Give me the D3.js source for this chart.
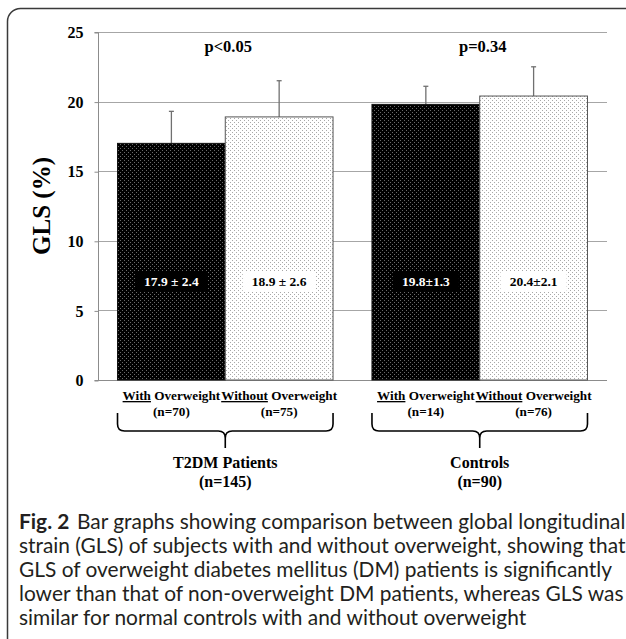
<!DOCTYPE html>
<html>
<head>
<meta charset="utf-8">
<script src="https://cdn.jsdelivr.net/npm/d3@7"></script>
<style>
  html, body { margin: 0; padding: 0; background: #fff; }
  svg { display: block; }
</style>
</head>
<body>
<div id="chart"></div>
<script>
// ---- data ----
const groups = ["T2DM Patients", "Controls"];
const groupN = ["(n=145)", "(n=90)"];
const subKeys = ["With", "Without"];
const subRest = [" Overweight", " Overweight"];
const subN = [["(n=70)", "(n=75)"], ["(n=14)", "(n=76)"]];
const values = [[17.0, 18.9], [19.8, 20.4]];
const errors = [[2.3, 2.6], [1.3, 2.1]];
const valueLabels = [["17.9 \u00B1 2.4", "18.9 \u00B1 2.6"], ["19.8\u00B11.3", "20.4\u00B12.1"]];
const pLabels = ["p<0.05", "p=0.34"];
const yTicks = [0, 5, 10, 15, 20, 25];
const yTitle = "GLS (%)";
const captionBold = "Fig. 2";
const captionLines = [
  "Bar graphs showing comparison between global longitudinal",
  "strain (GLS) of subjects with and without overweight, showing that",
  "GLS of overweight diabetes mellitus (DM) patients is significantly",
  "lower than that of non-overweight DM patients, whereas GLS was",
  "similar for normal controls with and without overweight"
];

// ---- layout ----
const W = 626, H = 639;
const serif = "'Liberation Serif', 'Times New Roman', serif";
const sans = "Lato, 'Open Sans', sans-serif";

const svg = d3.select("#chart").append("svg")
  .attr("width", W).attr("height", H);

svg.append("rect").attr("width", W).attr("height", H).attr("fill", "#fff");

const defs = svg.append("defs");
function dotPattern(id, bg, dot) {
  const p = defs.append("pattern").attr("id", id)
    .attr("patternUnits", "userSpaceOnUse").attr("width", 4).attr("height", 4);
  p.append("rect").attr("width", 4).attr("height", 4).attr("fill", bg);
  p.append("rect").attr("x", 0).attr("y", 0).attr("width", 1).attr("height", 1).attr("fill", dot);
  p.append("rect").attr("x", 2).attr("y", 2).attr("width", 1).attr("height", 1).attr("fill", dot);
}
dotPattern("darkDots", "#000", "#6a6a6a");
dotPattern("lightDots", "#fff", "#a8a8a8");

// frame
svg.append("rect")
  .attr("x", 7.5).attr("y", 8.5).attr("width", 630).attr("height", 645)
  .attr("rx", 13).attr("ry", 13)
  .attr("fill", "none").attr("stroke", "#3a3a3a").attr("stroke-width", 1.5);

const plotLeft = 98, plotRight = 607, plotTop = 32, plotBottom = 380;

const y = d3.scaleLinear().domain([0, 25]).range([plotBottom, plotTop]);
const x0 = d3.scaleBand().domain(groups).range([plotLeft, plotRight])
  .paddingInner(0.153).paddingOuter(0.0767);
const x1 = d3.scaleBand().domain(subKeys).range([0, x0.bandwidth()]).padding(0);

// gridlines
svg.append("g").selectAll("line").data(yTicks.filter(t => t > 0)).join("line")
  .attr("x1", plotLeft).attr("x2", plotRight)
  .attr("y1", d => Math.round(y(d)) + 0.5).attr("y2", d => Math.round(y(d)) + 0.5)
  .attr("stroke", "#a6a6a6").attr("stroke-width", 1);

// y axis
const yAxis = svg.append("g").attr("transform", `translate(${plotLeft + 0.5},0.5)`)
  .call(d3.axisLeft(y).tickValues(yTicks).tickSize(4).tickPadding(11).tickFormat(d3.format("d")));
yAxis.select(".domain").attr("stroke", "#8c8c8c").attr("d", `M-4,${y(25)}H0V${y(0)}H-4`);
yAxis.selectAll(".tick line").attr("stroke", "#8c8c8c");
yAxis.selectAll(".tick text")
  .attr("font-family", serif).attr("font-weight", "bold").attr("font-size", 16).attr("fill", "#000");

// bottom baseline
svg.append("line").attr("x1", plotLeft).attr("x2", plotRight)
  .attr("y1", y(0) + 0.5).attr("y2", y(0) + 0.5).attr("stroke", "#8c8c8c");

// y title
svg.append("text")
  .attr("transform", `translate(50,${(plotTop + plotBottom) / 2}) rotate(-90)`)
  .attr("text-anchor", "middle")
  .attr("font-family", serif).attr("font-weight", "bold").attr("font-size", 25)
  .text(yTitle);

// bars
groups.forEach((g, gi) => {
  const gx = x0(g);
  const gEl = svg.append("g");
  subKeys.forEach((k, si) => {
    const bx = gx + x1(k);
    const v = values[gi][si];
    const e = errors[gi][si];
    const cx = bx + x1.bandwidth() / 2;
    const dark = si === 0;
    // error bar (behind bar top)
    gEl.append("line").attr("x1", cx).attr("x2", cx)
      .attr("y1", y(v)).attr("y2", y(v + e))
      .attr("stroke", "#707070").attr("stroke-width", 1.3);
    gEl.append("line").attr("x1", cx - 2.5).attr("x2", cx + 2.5)
      .attr("y1", y(v + e)).attr("y2", y(v + e))
      .attr("stroke", "#707070").attr("stroke-width", 1.3);
    gEl.append("rect")
      .attr("x", bx).attr("y", y(v)).attr("width", x1.bandwidth()).attr("height", y(0) - y(v))
      .attr("fill", dark ? "url(#darkDots)" : "url(#lightDots)")
      .attr("stroke", dark ? "#111" : "#555").attr("stroke-width", 1);
    // value label
    const t = gEl.append("text")
      .attr("x", cx).attr("y", y(0) - 94.5)
      .attr("text-anchor", "middle")
      .attr("font-family", serif).attr("font-weight", "bold").attr("font-size", 13.5)
      .attr("fill", dark ? "#fff" : "#000")
      .text(valueLabels[gi][si]);
    const bb = t.node().getBBox();
    gEl.insert("rect", function () { return t.node(); })
      .attr("x", cx - bb.width / 2 - 9).attr("y", y(0) - 109)
      .attr("width", bb.width + 18).attr("height", 20)
      .attr("fill", dark ? "#000" : "#fff");
    // category labels
    const lab = gEl.append("text")
      .attr("x", cx).attr("y", 400)
      .attr("text-anchor", "middle")
      .attr("font-family", serif).attr("font-weight", "bold").attr("font-size", 13.2);
    lab.append("tspan").attr("text-decoration", "underline").text(k);
    lab.append("tspan").text(subRest[si]);
    gEl.append("text")
      .attr("x", cx).attr("y", 416)
      .attr("text-anchor", "middle")
      .attr("font-family", serif).attr("font-weight", "bold").attr("font-size", 13.2)
      .text(subN[gi][si]);
  });
  // p label
  svg.append("text")
    .attr("x", gx + x0.bandwidth() / 2 + 3).attr("y", 52)
    .attr("text-anchor", "middle")
    .attr("font-family", serif).attr("font-weight", "bold").attr("font-size", 16.5)
    .text(pLabels[gi]);
  // brace
  const L = gx, R = gx + x0.bandwidth(), C = gx + x0.bandwidth() / 2;
  const top = 413, hy = 431, tip = 448, r = 7;
  const path = `M${L},${top} L${L},${hy - r} Q${L},${hy} ${L + r},${hy} L${C - r},${hy} Q${C},${hy} ${C},${hy + r} L${C},${tip}` +
    ` M${C},${hy + r} Q${C},${hy} ${C + r},${hy} L${R - r},${hy} Q${R},${hy} ${R},${hy - r} L${R},${top}`;
  svg.append("path").attr("d", path).attr("fill", "none")
    .attr("stroke", "#000").attr("stroke-width", 1.6);
  // group labels
  svg.append("text").attr("x", C).attr("y", 468).attr("text-anchor", "middle")
    .attr("font-family", serif).attr("font-weight", "bold").attr("font-size", 16)
    .text(g);
  svg.append("text").attr("x", C).attr("y", 487).attr("text-anchor", "middle")
    .attr("font-family", serif).attr("font-weight", "bold").attr("font-size", 16)
    .text(groupN[gi]);
});

// caption
const cap = svg.append("g");
const first = cap.append("text").attr("x", 19).attr("y", 529)
  .attr("font-family", sans).attr("font-size", 19).attr("fill", "#231f20");
first.append("tspan").attr("font-weight", "bold").text(captionBold);
first.append("tspan").attr("dx", 7).text(captionLines[0]);
const w1 = first.node().getComputedTextLength();
const fs = 19 * 599 / w1;
first.attr("font-size", fs);
first.select("tspan:nth-child(2)").attr("dx", 7 * fs / 19);
captionLines.slice(1).forEach((ln, i) => {
  cap.append("text").attr("x", 19).attr("y", 553 + i * 24)
    .attr("font-family", sans).attr("font-size", fs).attr("fill", "#231f20")
    .text(ln);
});
</script>
</body>
</html>
